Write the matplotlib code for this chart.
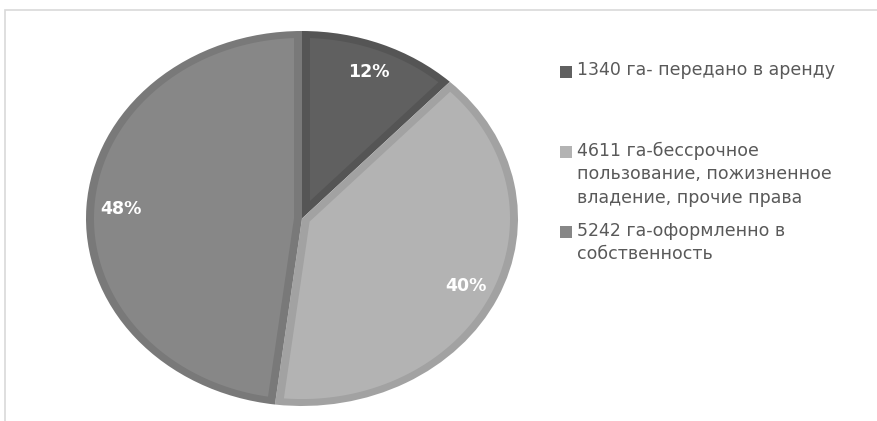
import numpy as np
import matplotlib.pyplot as plt
from matplotlib.patches import Rectangle, Polygon

plt.rcParams['font.family'] = ['DejaVu Sans']

# data
labels = ["1340 га- передано в аренду",
          "4611 га-бессрочное\nпользование, пожизненное\nвладение, прочие права",
          "5242 га-оформленно в\nсобственность"]
shares = [12, 40, 48]
colors = ["#606060", "#b3b3b3", "#878787"]
edges = ["#555555", "#a2a2a2", "#797979"]

W, H = 878, 421
fig = plt.figure(figsize=(W / 100, H / 100), dpi=100)

# chart frame (light gray border, top and left visible)
fig.patches.append(Rectangle((5 / W, -0.1), 2, (H - 10) / H + 0.1, transform=fig.transFigure,
                             facecolor="none", edgecolor="#d9d9d9", linewidth=1.2, zorder=0))

# pie stretched into an ellipse: center (302, 218.5) px, radii 216 x 187.5 px
cx, cy, rx, ry = 302, 218.5, 216, 187.5
ax = fig.add_axes([0, 0, 1, 1])
wedges, _, autotexts = ax.pie(shares, colors=edges, startangle=90, counterclock=False,
                              autopct='%.0f%%', pctdistance=0.84,
                              textprops=dict(color="white", fontsize=12.5, fontweight="bold"))

# bevel look: lighter inner face inset from every edge of the wedge
d = 0.037
for w, col in zip(wedges, colors):
    t1, t2 = np.deg2rad(w.theta1), np.deg2rad(w.theta2)
    half = (t2 - t1) / 2
    mid = t1 + half
    off = d / np.sin(min(half, np.pi / 2))
    delta = np.arcsin(d / (1 - d))
    arc = np.linspace(t1 + delta, t2 - delta, 200)
    pts = [(off * np.cos(mid), off * np.sin(mid))]
    pts += list(zip((1 - d) * np.cos(arc), (1 - d) * np.sin(arc)))
    ax.add_patch(Polygon(pts, closed=True, facecolor=col, edgecolor="none", zorder=w.get_zorder() + 0.1))
for t in autotexts:
    t.set_zorder(5)

ax.set_aspect('auto')
ax.set_xlim(-cx / rx, (W - cx) / rx)
ax.set_ylim((cy - H) / ry, cy / ry)
ax.axis('off')

# legend on the right
for i, (lab, col) in enumerate(zip(labels, colors)):
    ytop = 72 + 80 * i
    fig.patches.append(Rectangle((560 / W, 1 - (ytop + 6) / H), 12 / W, 12 / H,
                                 transform=fig.transFigure, facecolor=col, edgecolor="none"))
    fig.text(577 / W, 1 - (ytop - 10.5) / H, lab, fontsize=12.5, color="#595959",
             va="top", ha="left", linespacing=1.4)

fig.savefig("out.png", dpi=100, facecolor="white")
